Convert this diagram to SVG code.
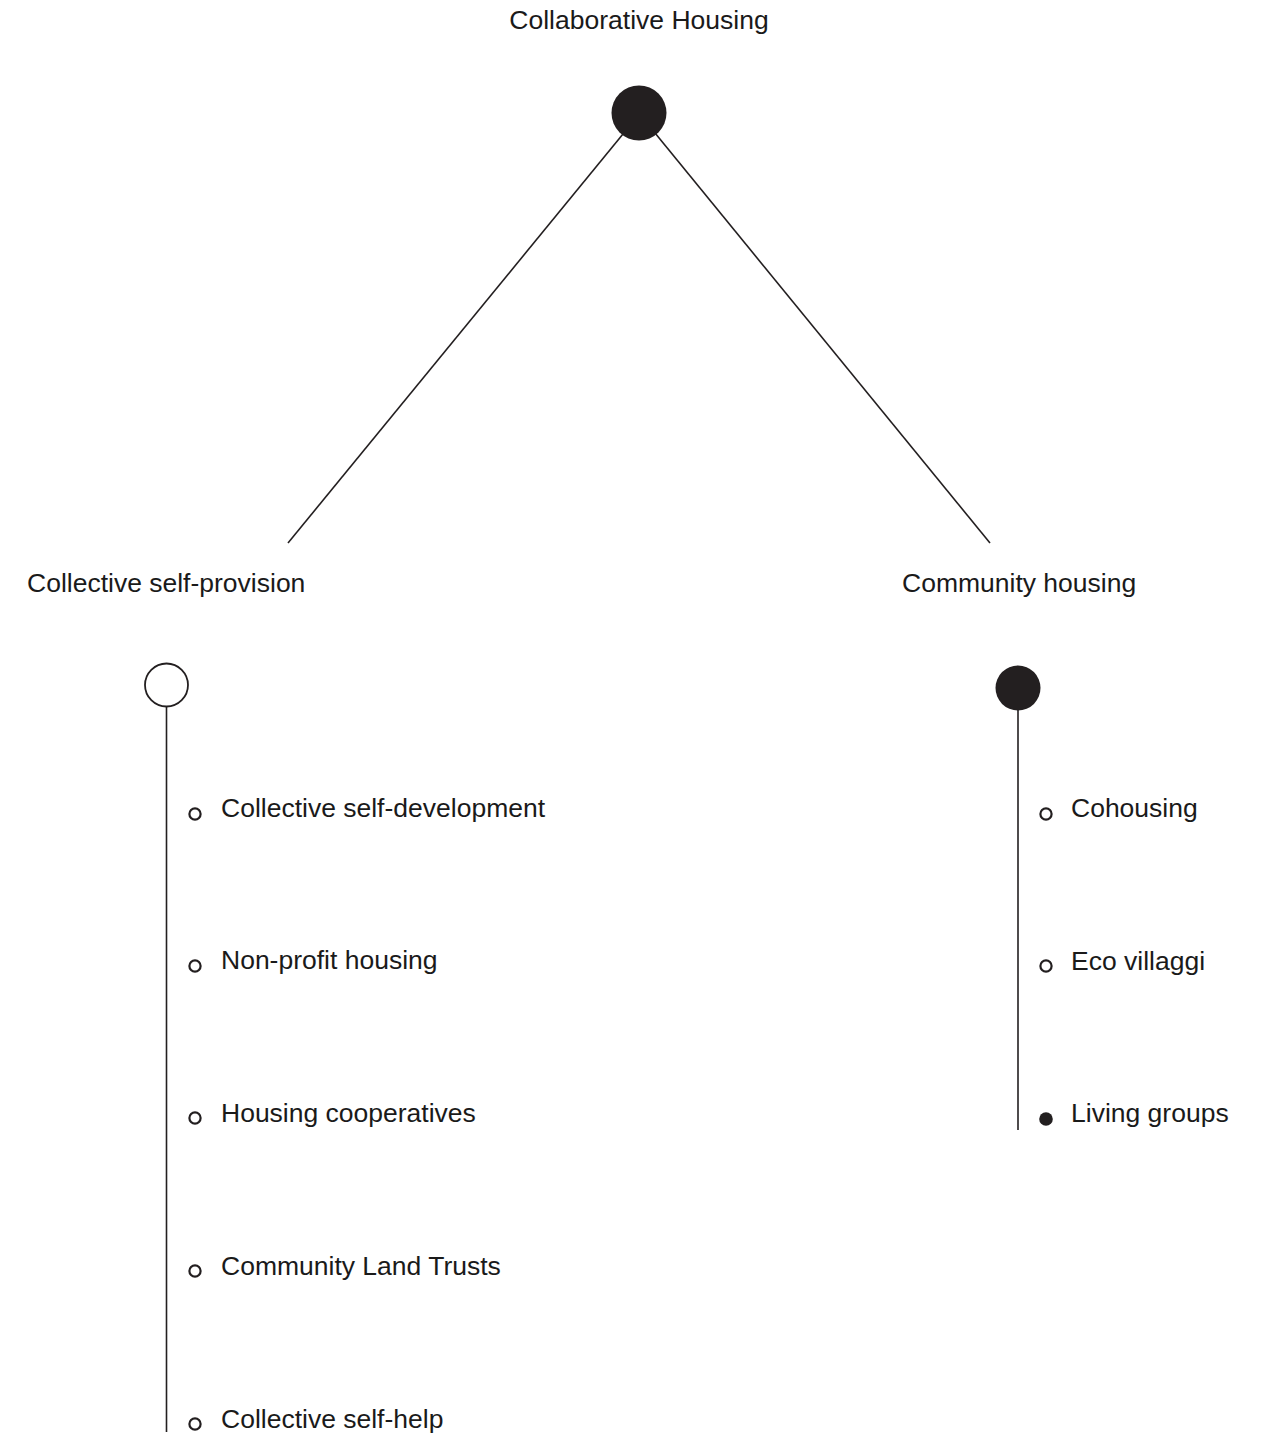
<svg xmlns="http://www.w3.org/2000/svg" width="1265" height="1434" viewBox="0 0 1265 1434">
<style>
text{font-family:"Liberation Sans",Arial,sans-serif;font-size:26.5px;fill:#1a1a1a}
.ln{stroke:#231f20;stroke-width:1.6;fill:none}
.big{fill:#231f20}
.open{fill:#fff;stroke:#231f20;stroke-width:1.8}
.sb{fill:#fff;stroke:#231f20;stroke-width:2.2}
.sf{fill:#231f20}
</style>
<rect width="1265" height="1434" fill="#fff"/>
<g id="connectors">
<line class="ln" x1="623" y1="134" x2="288" y2="543"/>
<line class="ln" x1="655" y1="133" x2="990" y2="543"/>
<line class="ln" x1="166.5" y1="706" x2="166.5" y2="1432"/>
<line class="ln" x1="1018" y1="710" x2="1018" y2="1130"/>
</g>
<g id="root">
<text x="639" y="29" text-anchor="middle">Collaborative Housing</text>
<circle class="big" cx="639" cy="113" r="27.5"/>
</g>
<g id="collective-self-provision">
<text x="27" y="592">Collective self-provision</text>
<circle class="open" cx="166.5" cy="685" r="21.5"/>
</g>
<g id="community-housing">
<text x="902" y="592">Community housing</text>
<circle class="big" cx="1018" cy="688" r="22.5"/>
</g>
<g id="item-self-development"><circle class="sb" cx="195" cy="814" r="5.6"/><text x="221" y="817">Collective self-development</text></g>
<g id="item-non-profit"><circle class="sb" cx="195" cy="966" r="5.6"/><text x="221" y="969">Non-profit housing</text></g>
<g id="item-cooperatives"><circle class="sb" cx="195" cy="1118" r="5.6"/><text x="221" y="1122">Housing cooperatives</text></g>
<g id="item-clt"><circle class="sb" cx="195" cy="1271" r="5.6"/><text x="221" y="1275">Community Land Trusts</text></g>
<g id="item-self-help"><circle class="sb" cx="195" cy="1424" r="5.6"/><text x="221" y="1428">Collective self-help</text></g>
<g id="item-cohousing"><circle class="sb" cx="1046" cy="814" r="5.6"/><text x="1071" y="817">Cohousing</text></g>
<g id="item-eco"><circle class="sb" cx="1046" cy="966" r="5.6"/><text x="1071" y="970">Eco villaggi</text></g>
<g id="item-living"><circle class="sf" cx="1046" cy="1119" r="6.8"/><text x="1071" y="1122">Living groups</text></g>
</svg>
